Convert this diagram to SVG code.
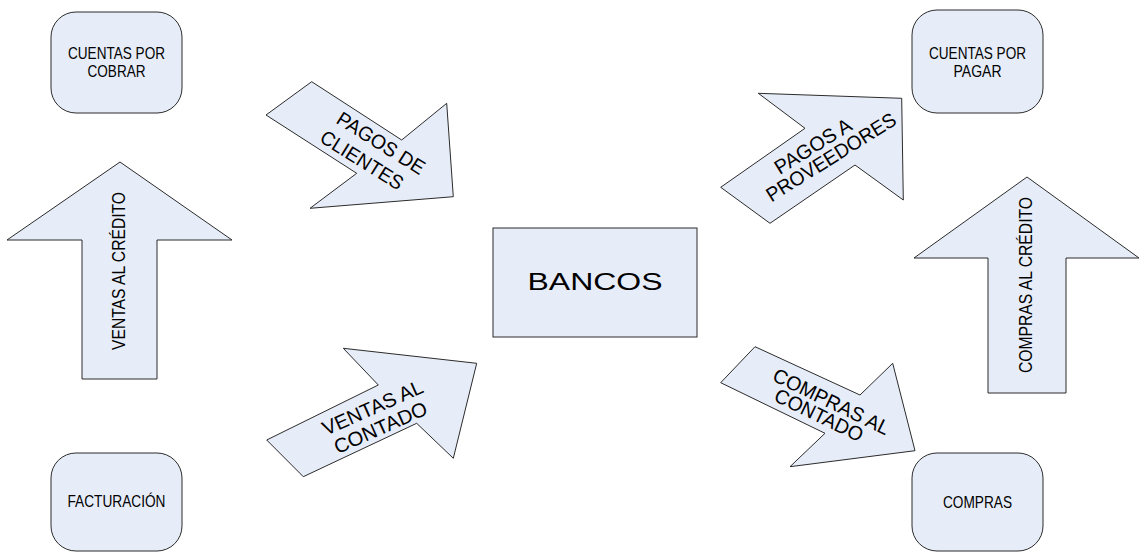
<svg xmlns="http://www.w3.org/2000/svg" width="1140" height="554" viewBox="0 0 1140 554">
<style>
.shape{fill:#E7EDF8;stroke:#2b2b2b;stroke-width:1}
.t{font-family:"Liberation Sans",Arial,sans-serif;font-size:16.5px;fill:#000;text-anchor:middle}
.a{font-family:"Liberation Sans",Arial,sans-serif;font-size:18px;fill:#000;text-anchor:middle}
.d{font-family:"Liberation Sans",Arial,sans-serif;font-size:20px;fill:#000;text-anchor:middle}
.big{font-family:"Liberation Sans",Arial,sans-serif;font-size:24px;fill:#000;text-anchor:middle}
</style>
<rect width="1140" height="554" fill="#fff"/>
<g id="connectors">
  <g id="ventas-credito">
    <polygon class="shape" points="120,162 232,240 157,240 157,379 82,379 82,240 7,240"/>
    <text class="a" transform="translate(118.5,271) rotate(-90)" y="6.4" textLength="158" lengthAdjust="spacingAndGlyphs">VENTAS AL CRÉDITO</text>
  </g>
  <g id="pagos-clientes">
    <polygon class="shape" points="311.7,81.7 401.7,140 446.7,103.3 453.3,196.7 310,208.3 356.7,173.3 266,115"/>
    <text class="d" transform="translate(381,143) rotate(32)" y="7" textLength="100" lengthAdjust="spacingAndGlyphs">PAGOS DE</text>
    <text class="d" transform="translate(362,160) rotate(32)" y="7" textLength="94" lengthAdjust="spacingAndGlyphs">CLIENTES</text>
  </g>
  <g id="ventas-contado">
    <polygon class="shape" points="343.3,348.3 476.7,363.3 453.3,458.3 416.7,423.3 303.3,476.7 266.7,440 378.3,385"/>
    <text class="d" transform="translate(372.5,407.5) rotate(-24)" y="7" textLength="108" lengthAdjust="spacingAndGlyphs">VENTAS AL</text>
    <text class="d" transform="translate(380.5,427.5) rotate(-24)" y="7" textLength="100" lengthAdjust="spacingAndGlyphs">CONTADO</text>
  </g>
  <g id="pagos-proveedores">
    <polygon class="shape" points="758.3,93.3 901.7,98.3 903.3,200 855,165 770,223.3 720.7,187.3 805,128.3"/>
    <text class="d" transform="translate(813,146) rotate(-32)" y="7" textLength="87" lengthAdjust="spacingAndGlyphs">PAGOS A</text>
    <text class="d" transform="translate(831,157) rotate(-32)" y="7" textLength="149" lengthAdjust="spacingAndGlyphs">PROVEEDORES</text>
  </g>
  <g id="compras-contado">
    <polygon class="shape" points="755,346.7 860,395 892.7,363.3 915,450.7 790,466.7 825,433.3 720.7,382.7"/>
    <text class="d" transform="translate(831.5,401.5) rotate(26)" y="7" textLength="127" lengthAdjust="spacingAndGlyphs">COMPRAS AL</text>
    <text class="d" transform="translate(819,415) rotate(26)" y="7" textLength="96" lengthAdjust="spacingAndGlyphs">CONTADO</text>
  </g>
  <g id="compras-credito">
    <polygon class="shape" points="1027,177 1139,258 1066,258 1066,393 988,393 988,258 914,258"/>
    <text class="a" transform="translate(1026,285) rotate(-90)" y="6.4" textLength="176" lengthAdjust="spacingAndGlyphs">COMPRAS AL CRÉDITO</text>
  </g>
</g>
<g id="cuentas-por-cobrar">
  <rect class="shape" x="51" y="12" width="131" height="101" rx="25" ry="25"/>
  <text class="t" x="116.5" y="59" textLength="97" lengthAdjust="spacingAndGlyphs">CUENTAS POR</text>
  <text class="t" x="116.5" y="77" textLength="58" lengthAdjust="spacingAndGlyphs">COBRAR</text>
</g>
<g id="facturacion">
  <rect class="shape" x="51" y="453" width="131" height="98" rx="25" ry="25"/>
  <text class="t" x="116.5" y="507" textLength="98" lengthAdjust="spacingAndGlyphs">FACTURACIÓN</text>
</g>
<g id="bancos">
  <rect class="shape" x="493" y="228" width="204" height="109"/>
  <text class="big" x="595" y="290" textLength="135" lengthAdjust="spacingAndGlyphs">BANCOS</text>
</g>
<g id="cuentas-por-pagar">
  <rect class="shape" x="912" y="10" width="131" height="103" rx="25" ry="25"/>
  <text class="t" x="977.5" y="59" textLength="97" lengthAdjust="spacingAndGlyphs">CUENTAS POR</text>
  <text class="t" x="977.5" y="77" textLength="48" lengthAdjust="spacingAndGlyphs">PAGAR</text>
</g>
<g id="compras">
  <rect class="shape" x="912" y="453" width="131" height="98" rx="25" ry="25"/>
  <text class="t" x="977.5" y="508" textLength="69" lengthAdjust="spacingAndGlyphs">COMPRAS</text>
</g>
</svg>
